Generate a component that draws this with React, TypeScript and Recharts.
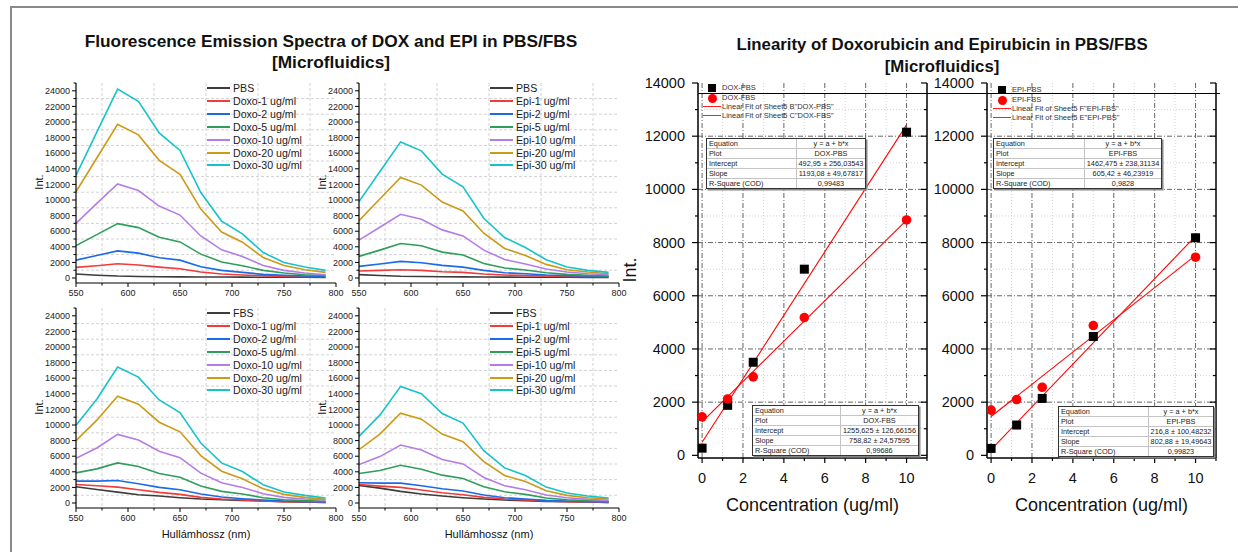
import React from 'react';
import { CartesianGrid, ComposedChart, Line, LineChart, Scatter, XAxis, YAxis } from 'recharts';

const FONT = '"Liberation Sans", Arial, Helvetica, sans-serif';

// ---------- emission spectra ----------
const wavelengths = [550, 570, 590, 610, 630, 650, 670, 690, 710, 730, 750, 770, 790];

const pbsDox = [510, 360, 250, 200, 170, 150, 130, 120, 110, 100, 90, 90, 80];
const doxo1Pbs = [1360, 1570, 1830, 1660, 1400, 1190, 765, 510, 380, 300, 210, 170, 170];
const doxo2Pbs = [2290, 2890, 3480, 3190, 2590, 2290, 1440, 980, 720, 470, 340, 255, 210];
const doxo5Pbs = [4160, 5560, 6970, 6460, 5225, 4630, 3060, 2040, 1570, 980, 640, 425, 300];
const doxo10Pbs = [7000, 9560, 12060, 11210, 9220, 8070, 5390, 3610, 2760, 1615, 980, 640, 425];
const doxo20Pbs = [11040, 15380, 19710, 18350, 15080, 13300, 8835, 5900, 4590, 2630, 1615, 1060, 720];
const doxo30Pbs = [13170, 18690, 24210, 22640, 18600, 16350, 10960, 7300, 5650, 3270, 2000, 1400, 980];

const pbsEpi = [430, 320, 220, 190, 160, 140, 120, 110, 100, 90, 90, 80, 80];
const epi1Pbs = [890, 980, 1060, 980, 810, 720, 510, 380, 300, 255, 210, 170, 170];
const epi2Pbs = [1490, 1790, 2130, 1960, 1620, 1400, 980, 680, 550, 380, 300, 255, 210];
const epi5Pbs = [2770, 3575, 4425, 4130, 3320, 2940, 1870, 1280, 1020, 680, 470, 340, 255];
const epi10Pbs = [4850, 6510, 8170, 7530, 6170, 5400, 3575, 2380, 1790, 1150, 765, 550, 425];
const epi20Pbs = [7360, 10130, 12890, 11910, 9740, 8600, 5745, 3790, 2890, 1745, 1060, 765, 550];
const epi30Pbs = [9790, 13620, 17450, 16300, 13320, 11700, 7660, 5190, 3915, 2340, 1400, 980, 720];

const fbsDox = [2080, 1740, 1400, 1060, 890, 680, 510, 425, 340, 255, 170, 130, 85];
const doxo1Fbs = [2380, 2210, 2040, 1700, 1360, 1105, 720, 510, 380, 255, 170, 130, 85];
const doxo2Fbs = [2800, 2800, 2890, 2460, 2000, 1700, 1150, 765, 550, 380, 255, 170, 130];
const doxo5Fbs = [3865, 4375, 5140, 4670, 3780, 3310, 2170, 1490, 1150, 680, 425, 300, 210];
const doxo10Fbs = [5730, 7050, 8790, 8070, 6630, 5820, 3825, 2590, 2000, 1190, 720, 510, 380];
const doxo20Fbs = [7990, 10620, 13680, 12660, 10360, 9130, 6075, 4080, 3100, 1830, 1105, 720, 470];
const doxo30Fbs = [9980, 13300, 17420, 16140, 13210, 11600, 7690, 5140, 4035, 2340, 1400, 980, 640];

const fbsEpi = [2250, 1910, 1490, 1150, 890, 680, 510, 380, 300, 210, 170, 130, 85];
const epi1Fbs = [2380, 2170, 2000, 1660, 1320, 1060, 720, 510, 380, 255, 170, 130, 85];
const epi2Fbs = [2590, 2550, 2550, 2210, 1830, 1530, 1020, 680, 510, 340, 255, 170, 130];
const epi5Fbs = [3780, 4160, 4840, 4330, 3570, 3140, 2080, 1440, 1105, 640, 425, 300, 210];
const epi10Fbs = [4930, 5950, 7430, 6800, 5565, 5010, 3270, 2210, 1700, 1020, 680, 470, 340];
const epi20Fbs = [6840, 8840, 11510, 10750, 8840, 7860, 5310, 3525, 2760, 1570, 980, 680, 510];
const epi30Fbs = [8540, 11260, 14950, 14020, 11470, 10240, 6710, 4500, 3525, 2040, 1275, 890, 640];

const doxoNames = ['Doxo-1 ug/ml', 'Doxo-2 ug/ml', 'Doxo-5 ug/ml', 'Doxo-10 ug/ml', 'Doxo-20 ug/ml', 'Doxo-30 ug/ml'];
const epiNames = ['Epi-1 ug/ml', 'Epi-2 ug/ml', 'Epi-5 ug/ml', 'Epi-10 ug/ml', 'Epi-20 ug/ml', 'Epi-30 ug/ml'];
const spectraColors = ['#3c3c3c', '#f23b3b', '#1c6ae6', '#2f9e5c', '#b47de6', '#cc9a14', '#16c3ca'];

const specXTicks = [550, 575, 600, 625, 650, 675, 700, 725, 750, 775, 800];
const specYTicks = [0, 1000, 2000, 3000, 4000, 5000, 6000, 7000, 8000, 9000, 10000, 11000, 12000, 13000,
  14000, 15000, 16000, 17000, 18000, 19000, 20000, 21000, 22000, 23000, 24000, 25000];
const specGridX = [575, 625, 675, 725, 775];
const specGridY = [1000, 3000, 5000, 7000, 9000, 11000, 13000, 15000, 17000, 19000, 21000, 23000];

// ---------- linearity ----------
const concentrations = [0, 1.25, 2.5, 5, 10];
const doxPbs = [270, 1880, 3500, 7000, 12150];
const doxFbs = [1450, 2120, 2950, 5180, 8850];
const epiPbs = [260, 1140, 2140, 4470, 8180];
const epiFbs = [1700, 2100, 2560, 4880, 7450];

// fitted parameters as printed in the tables (intercept, slope)
const doxPbsFit = [492.95, 1193.08];
const doxFbsFit = [1255.625, 758.82];
const epiPbsFit = [216.8, 802.88];
const epiFbsFit = [1462.475, 605.42];
const fitRange = [0, 10];

const tableLabels = ['Equation', 'Plot', 'Intercept', 'Slope', 'R-Square (COD)'];
const doxPbsTable = ['y = a + b*x', 'DOX-PBS', '492,95 ± 256,03543', '1193,08 ± 49,67817', '0,99483'];
const doxFbsTable = ['y = a + b*x', 'DOX-FBS', '1255,625 ± 126,66156', '758,82 ± 24,57595', '0,99686'];
const epiFbsTable = ['y = a + b*x', 'EPI-FBS', '1462,475 ± 238,31134', '605,42 ± 46,23919', '0,9828'];
const epiPbsTable = ['y = a + b*x', 'EPI-PBS', '216,8 ± 100,48232', '802,88 ± 19,49643', '0,99823'];

const linXTicks = [0, 1, 2, 3, 4, 5, 6, 7, 8, 9, 10, 11];
const linYTicks = [0, 1000, 2000, 3000, 4000, 5000, 6000, 7000, 8000, 9000, 10000, 11000, 12000, 13000, 14000];
const linMajorX = [0, 2, 4, 6, 8, 10];
const linMinorX = [1, 3, 5, 7, 9];
const linMajorY = [2000, 4000, 6000, 8000, 10000, 12000];
const linMinorY = [1000, 3000, 5000, 7000, 9000, 11000, 13000];

// ---------- helpers ----------
function Txt({ x, y, size, children, bold, rotate, anchor = 'middle', color = '#111' }: any) {
  const tx = anchor === 'middle' ? '-50%' : anchor === 'end' ? '-100%' : '0';
  return (
    <div
      style={{
        position: 'absolute', left: x, top: y, whiteSpace: 'nowrap', lineHeight: 1,
        transform: `translate(${tx}, -50%)${rotate ? ' rotate(-90deg)' : ''}`,
        fontFamily: FONT, fontSize: size, fontWeight: bold ? 700 : 400, color,
      }}
    >
      {children}
    </div>
  );
}

const SpecXTick = (p: any) => {
  const major = p.payload.value % 50 === 0;
  return (
    <g>
      <line x1={p.x} x2={p.x} y1={p.y} y2={p.y + (major ? 4 : 2.5)} stroke="#000" strokeWidth={1} />
      {major && (
        <text x={p.x} y={p.y + 13} textAnchor="middle" fontSize={9} fontFamily={FONT} fill="#222">{p.payload.value}</text>
      )}
    </g>
  );
};

const SpecYTick = (p: any) => {
  const v = p.payload.value;
  const major = v % 2000 === 0;
  return (
    <g>
      <line x1={p.x - (major ? 4 : 2.5)} x2={p.x} y1={p.y} y2={p.y} stroke="#000" strokeWidth={1} />
      {major && (
        <text x={p.x - 6} y={p.y + 3.2} textAnchor="end" fontSize={9} fontFamily={FONT} fill="#222">{v}</text>
      )}
    </g>
  );
};

const SPEC_W = 260;
const SPEC_H = 200;

type SpectraProps = { plotLeft: number; plotTop: number; names: string[]; series: number[][]; xLabel: boolean };

function SpectraPanel({ plotLeft, plotTop, names, series, xLabel }: SpectraProps) {
  const rows = wavelengths.map((w, i) => {
    const row: Record<string, number> = { w };
    series.forEach((s, k) => {
      row['s' + k] = s[i];
    });
    return row;
  });
  const legendLeft = plotLeft + SPEC_W - 129;
  return (
    <>
      <div style={{ position: 'absolute', left: plotLeft - 60, top: plotTop - 10 }}>
        <LineChart
          width={60 + SPEC_W + 16}
          height={10 + SPEC_H + 40}
          data={rows}
          margin={{ top: 10, right: 16, bottom: 0, left: 0 }}
          style={{ overflow: 'visible' }}
        >
          <CartesianGrid stroke="#d2d2d2" strokeDasharray="3 2" horizontalValues={specGridY} verticalValues={specGridX} />
          <XAxis
            dataKey="w" type="number" domain={[550, 800]} ticks={specXTicks} interval={0} allowDataOverflow
            height={40} tickSize={0} tickMargin={0} tickLine={false}
            axisLine={{ stroke: '#000', strokeWidth: 1.2 }} tick={SpecXTick}
          />
          <YAxis
            type="number" domain={[-640, 25000]} ticks={specYTicks} interval={0} allowDataOverflow
            width={60} tickSize={0} tickMargin={0} tickLine={false}
            axisLine={{ stroke: '#000', strokeWidth: 1.2 }} tick={SpecYTick}
          />
          {series.map((_, k) => (
            <Line
              key={k} dataKey={'s' + k} type="linear" stroke={spectraColors[k]} strokeWidth={1.6}
              dot={false} isAnimationActive={false}
            />
          ))}
        </LineChart>
      </div>
      {names.map((n, k) => (
        <React.Fragment key={n}>
          <div style={{ position: 'absolute', left: legendLeft, top: plotTop + 5 + k * 12.9 - 1, width: 23, height: 2, background: spectraColors[k] }} />
          <Txt x={legendLeft + 26} y={plotTop + 5 + k * 12.9} size={10.6} anchor="start" color="#1a1a1a">{n}</Txt>
        </React.Fragment>
      ))}
      <Txt x={plotLeft - 37} y={plotTop + 99} size={11} rotate>Int.</Txt>
      {xLabel && (
        <Txt x={plotLeft + SPEC_W / 2} y={plotTop + SPEC_H + 26} size={11}>Hullámhossz (nm)</Txt>
      )}
    </>
  );
}

const LinXTick = (p: any) => {
  const v = p.payload.value;
  const major = v % 2 === 0 && v <= 10;
  return (
    <g>
      <line x1={p.x} x2={p.x} y1={p.y} y2={p.y + (major ? 5 : 3)} stroke="#000" strokeWidth={1.2} />
      {major && (
        <text x={p.x} y={p.y + 25} textAnchor="middle" fontSize={14.5} fontFamily={FONT} fill="#111">{v}</text>
      )}
    </g>
  );
};

const LinYTick = (p: any) => {
  const v = p.payload.value;
  const major = v % 2000 === 0;
  return (
    <g>
      <line x1={p.x - (major ? 6 : 3)} x2={p.x} y1={p.y} y2={p.y} stroke="#000" strokeWidth={1.2} />
      {major && (
        <text x={p.x - 13} y={p.y + 5} textAnchor="end" fontSize={14.5} fontFamily={FONT} fill="#111">{v}</text>
      )}
    </g>
  );
};

const LinRTick = (p: any) => {
  const major = p.payload.value % 2000 === 0;
  return <line x1={p.x - (major ? 6 : 3)} x2={p.x} y1={p.y} y2={p.y} stroke="#000" strokeWidth={1.2} />;
};

const SquareMark = (p: any) => <rect x={p.cx - 4.5} y={p.cy - 4.5} width={9} height={9} fill="#000" />;
const CircleMark = (p: any) => <circle cx={p.cx} cy={p.cy} r={4.8} fill="#ff0000" />;

const LIN_W = 229;
const LIN_H = 375;
const LIN_TOP = 83;

type LinearProps = { plotLeft: number; pbs: number[]; fbs: number[]; pbsFit: number[]; fbsFit: number[]; yLabel: boolean };

function LinearPanel({ plotLeft, pbs, fbs, pbsFit, fbsFit, yLabel }: LinearProps) {
  const pbsPts = concentrations.map((x, i) => ({ x, y: pbs[i] }));
  const fbsPts = concentrations.map((x, i) => ({ x, y: fbs[i] }));
  const pbsLine = fitRange.map((x) => ({ x, y: pbsFit[0] + pbsFit[1] * x }));
  const fbsLine = fitRange.map((x) => ({ x, y: fbsFit[0] + fbsFit[1] * x }));
  return (
    <>
      <div style={{ position: 'absolute', left: plotLeft - 80, top: LIN_TOP - 10 }}>
        <ComposedChart
          width={80 + LIN_W + 1 + 10}
          height={10 + LIN_H + 60}
          margin={{ top: 10, right: 10, bottom: 0, left: 0 }}
          style={{ overflow: 'visible' }}
        >
          <CartesianGrid stroke="#d4d4d4" strokeDasharray="1 2" horizontalValues={linMinorY} verticalValues={linMinorX} />
          <CartesianGrid stroke="#666" strokeDasharray="5 2 1 2" horizontalValues={linMajorY} verticalValues={linMajorX} />
          <XAxis
            dataKey="x" type="number" domain={[-0.2, 11]} allowDataOverflow ticks={linXTicks} interval={0}
            height={60} tickSize={0} tickMargin={0} tickLine={false}
            axisLine={{ stroke: '#000', strokeWidth: 1.5 }} tick={LinXTick}
          />
          <YAxis
            type="number" domain={[-100, 14000]} allowDataOverflow ticks={linYTicks} interval={0}
            width={80} tickSize={0} tickMargin={0} tickLine={false}
            axisLine={{ stroke: '#000', strokeWidth: 1.5 }} tick={LinYTick}
          />
          <YAxis
            yAxisId="r" orientation="right" type="number" domain={[-100, 14000]} allowDataOverflow
            ticks={linYTicks} interval={0} width={1} tickSize={0} tickMargin={0} tickLine={false}
            axisLine={{ stroke: '#000', strokeWidth: 1.5 }} tick={LinRTick}
          />
          <Line yAxisId="r" data={pbsLine} dataKey="y" type="linear" stroke="#ff0000" strokeWidth={1.1} dot={false} isAnimationActive={false} />
          <Line yAxisId="r" data={fbsLine} dataKey="y" type="linear" stroke="#ff0000" strokeWidth={1.1} dot={false} isAnimationActive={false} />
          <Scatter data={pbsPts} dataKey="y" shape={SquareMark} isAnimationActive={false} />
          <Scatter data={fbsPts} dataKey="y" shape={CircleMark} isAnimationActive={false} />
        </ComposedChart>
      </div>
      {yLabel && <Txt x={plotLeft - 68} y={270} size={18} rotate>Int.</Txt>}
      <Txt x={plotLeft + LIN_W / 2} y={LIN_TOP + LIN_H + 47} size={18}>Concentration (ug/ml)</Txt>
    </>
  );
}

function LinLegend({ left, top, names }: { left: number; top: number; names: string[] }) {
  return (
    <>
      <div style={{ position: 'absolute', left: left - 4, top: top - 4, width: 8, height: 8, background: '#000' }} />
      <Txt x={left + 10} y={top} size={7.5} anchor="start" color="#333">{names[0]}</Txt>
      <div style={{ position: 'absolute', left: left - 4.5, top: top + 10 - 4.5, width: 9, height: 9, borderRadius: '50%', background: '#ff0000' }} />
      <Txt x={left + 10} y={top + 10} size={7.5} anchor="start" color="#333">{names[1]}</Txt>
      <div style={{ position: 'absolute', left: left - 9, top: top + 18, width: 18, height: 1, background: '#ff2020' }} />
      <Txt x={left + 10} y={top + 19} size={7.5} anchor="start" color="#333">{names[2]}</Txt>
      <div style={{ position: 'absolute', left: left - 9, top: top + 27, width: 18, height: 1, background: '#ff2020' }} />
      <Txt x={left + 10} y={top + 28} size={7.5} anchor="start" color="#333">{names[3]}</Txt>
    </>
  );
}

function FitTable({ left, top, width, labelW, values }: { left: number; top: number; width: number; labelW: number; values: string[] }) {
  return (
    <div
      style={{
        position: 'absolute', left, top, width, boxSizing: 'border-box', border: '1px solid #333',
        boxShadow: '1.5px 1.5px 0 #888', background: '#fff', fontFamily: FONT, fontSize: 7.3, color: '#222',
        whiteSpace: 'nowrap',
      }}
    >
      {tableLabels.map((lab, i) => (
        <div key={lab} style={{ display: 'flex', height: 9, lineHeight: '9px', borderTop: i ? '1px solid #c4c4c4' : 'none' }}>
          <div style={{ width: labelW, flexShrink: 0, paddingLeft: 2, boxSizing: 'border-box', borderRight: '1px solid #c4c4c4' }}>{lab}</div>
          <div style={{ flex: 1, textAlign: 'center', overflow: 'visible' }}>{values[i]}</div>
        </div>
      ))}
    </div>
  );
}

export default function App() {
  return (
    <div style={{ position: 'fixed', left: 0, top: 0, width: 1238, height: 552, background: '#fff', overflow: 'hidden' }}>
      <div style={{ position: 'absolute', left: 10, top: 6, width: 1240, height: 2, background: '#8a8a8a' }} />
      <div style={{ position: 'absolute', left: 10, top: 6, width: 2, height: 560, background: '#8a8a8a' }} />

      <Txt x={331} y={42} size={17.3} bold>Fluorescence Emission Spectra of DOX and EPI in PBS/FBS</Txt>
      <Txt x={331} y={63} size={17.3} bold>[Microfluidics]</Txt>
      <Txt x={942} y={45} size={16.8} bold>Linearity of Doxorubicin and Epirubicin in PBS/FBS</Txt>
      <Txt x={942} y={67} size={16.8} bold>[Microfluidics]</Txt>

      <SpectraPanel plotLeft={76} plotTop={83} names={['PBS', ...doxoNames]} xLabel={false}
        series={[pbsDox, doxo1Pbs, doxo2Pbs, doxo5Pbs, doxo10Pbs, doxo20Pbs, doxo30Pbs]} />
      <SpectraPanel plotLeft={359} plotTop={83} names={['PBS', ...epiNames]} xLabel={false}
        series={[pbsEpi, epi1Pbs, epi2Pbs, epi5Pbs, epi10Pbs, epi20Pbs, epi30Pbs]} />
      <SpectraPanel plotLeft={76} plotTop={308} names={['FBS', ...doxoNames]} xLabel
        series={[fbsDox, doxo1Fbs, doxo2Fbs, doxo5Fbs, doxo10Fbs, doxo20Fbs, doxo30Fbs]} />
      <SpectraPanel plotLeft={359} plotTop={308} names={['FBS', ...epiNames]} xLabel
        series={[fbsEpi, epi1Fbs, epi2Fbs, epi5Fbs, epi10Fbs, epi20Fbs, epi30Fbs]} />

      <LinearPanel plotLeft={698} pbs={doxPbs} fbs={doxFbs} pbsFit={doxPbsFit} fbsFit={doxFbsFit} yLabel />
      <LinearPanel plotLeft={987} pbs={epiPbs} fbs={epiFbs} pbsFit={epiPbsFit} fbsFit={epiFbsFit} yLabel={false} />

      <div style={{ position: 'absolute', left: 698, top: 92.5, width: 522, height: 1.5, background: '#000' }} />

      <LinLegend left={712} top={88} names={['DOX-PBS', 'DOX-FBS', 'Linear Fit of Sheet5 B"DOX-PBS"', 'Linear Fit of Sheet5 C"DOX-FBS"']} />
      <LinLegend left={1002} top={90} names={['EPI-PBS', 'EPI-FBS', 'Linear Fit of Sheet5 F"EPI-FBS"', 'Linear Fit of Sheet5 E"EPI-PBS"']} />

      <FitTable left={706} top={138} width={160} labelW={90} values={doxPbsTable} />
      <FitTable left={752} top={405} width={167} labelW={88} values={doxFbsTable} />
      <FitTable left={993} top={138} width={169} labelW={91} values={epiFbsTable} />
      <FitTable left={1058} top={406} width={156} labelW={90} values={epiPbsTable} />
    </div>
  );
}
